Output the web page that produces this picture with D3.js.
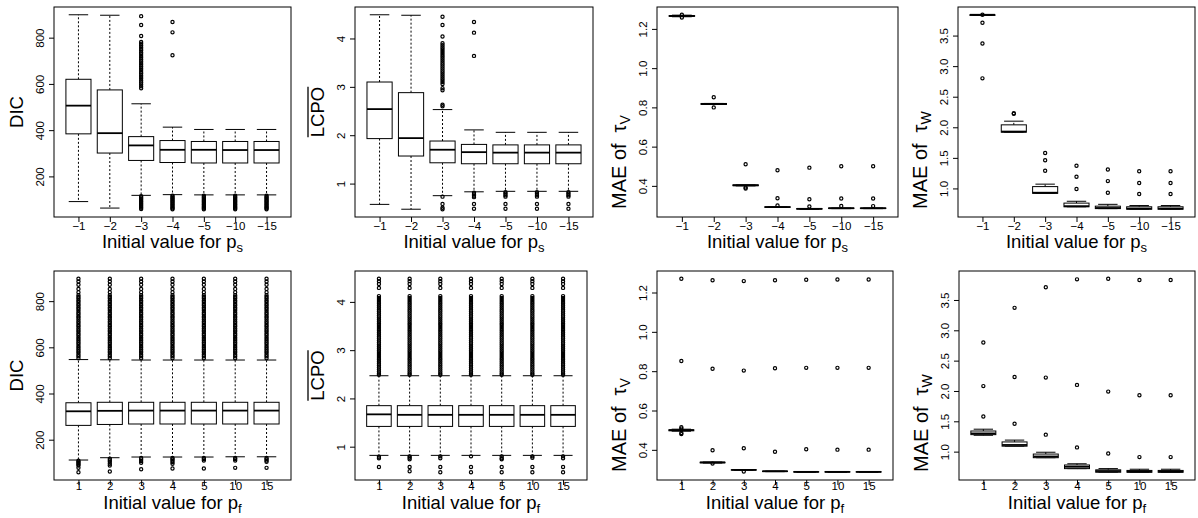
<!DOCTYPE html>
<html>
<head>
<meta charset="utf-8">
<script src="https://cdn.jsdelivr.net/npm/d3@7"></script>
<style>
body{margin:0;background:#fff}
svg{display:block;font-family:"Liberation Sans",Arial,sans-serif}
</style>
</head>
<body>
<svg id="chart" width="1198" height="518"></svg>
<script>
// categories on the x axis
const psLabels = ["\u22121","\u22122","\u22123","\u22124","\u22125","\u221210","\u221215"];
const pfLabels = ["1","2","3","4","5","10","15"];

// y tick values
const dicTicks = [200,400,600,800];
const lcpoTicks = [1,2,3,4];
const tauVTicks = [0.4,0.6,0.8,1.0,1.2];
const tauWTicks = [1.0,1.5,2.0,2.5,3.0,3.5];

// box rows: [lower whisker, q1, median, q3, upper whisker]
const dicPsStats = [
  [91,384,506,620,899],
  [63,301,387,574,897],
  [118,269,334,372,514],
  [121,260,315,355,413],
  [120,258,315,351,403],
  [120,258,314,351,403],
  [120,258,314,351,403]
];
const dicPsOut = [
  [],
  [],
  [893,855,807,781,774,766,759,751,744,736,729,721,713,706,698,690,683,675,668,660,652,645,637,630,622,614,606,598,590,581,
   114,109,104,99,94,89,84,79,74,69,64,59],
  [868,823,724,117,112,107,102,97,92,87,82,77,72,67,62,58],
  [116,111,106,101,96,91,86,81,76,71,66,62,58],
  [116,111,106,101,96,91,86,81,76,71,66,62,58],
  [116,111,106,101,96,91,86,81,76,71,66,62,58]
];

const lcpoPsStats = [
  [0.57,1.93,2.54,3.10,4.49],
  [0.47,1.57,1.94,2.88,4.48],
  [0.75,1.43,1.70,1.88,2.53],
  [0.83,1.41,1.65,1.81,2.11],
  [0.84,1.41,1.64,1.80,2.06],
  [0.84,1.41,1.64,1.80,2.06],
  [0.84,1.41,1.64,1.80,2.06]
];
const lcpoPsOut = [
  [],
  [],
  [4.45,4.28,4.04,3.90,3.86,3.82,3.78,3.74,3.70,3.66,3.62,3.58,3.54,3.50,3.46,3.42,3.38,3.34,3.30,3.26,3.22,3.18,3.14,3.10,3.06,2.97,2.93,2.63,2.60,
   0.73,0.58,0.50,0.47],
  [4.34,4.12,3.64,0.81,0.78,0.75,0.72,0.58,0.48],
  [0.82,0.79,0.76,0.73,0.58,0.48],
  [0.82,0.79,0.76,0.73,0.58,0.48],
  [0.82,0.79,0.76,0.73,0.58,0.48]
];

const tauVPsStats = [
  [1.262,1.264,1.266,1.268,1.270],
  [0.815,0.815,0.817,0.820,0.820],
  [0.400,0.401,0.403,0.405,0.405],
  [0.290,0.291,0.292,0.293,0.293],
  [0.281,0.282,0.283,0.284,0.284],
  [0.284,0.285,0.286,0.287,0.287],
  [0.284,0.285,0.286,0.287,0.287]
];
const tauVPsOut = [
  [1.258,1.272],
  [0.852,0.800],
  [0.510,0.392,0.386],
  [0.480,0.337,0.300],
  [0.493,0.332,0.295],
  [0.500,0.336,0.298],
  [0.500,0.336,0.297]
];

const tauWPsStats = [
  [3.83,3.83,3.84,3.84,3.84],
  [1.92,1.92,1.93,2.04,2.10],
  [0.92,0.92,0.93,1.03,1.07],
  [0.70,0.70,0.71,0.76,0.79],
  [0.67,0.67,0.68,0.71,0.74],
  [0.66,0.66,0.67,0.70,0.72],
  [0.66,0.66,0.67,0.70,0.72]
];
const tauWPsOut = [
  [3.84,3.71,3.37,2.80],
  [2.23,2.22],
  [1.58,1.46,1.29],
  [1.37,1.19,0.99],
  [1.31,1.12,0.93],
  [1.28,1.09,0.91],
  [1.28,1.09,0.91]
];

// initial p_f: DIC and LCPO share the same long upper tail in every group
const dicPfStats = [
  [112,262,323,360,547],
  [122,266,325,362,546],
  [125,268,326,362,545],
  [125,268,326,362,545],
  [125,268,326,362,545],
  [126,268,326,362,545],
  [126,268,326,362,545]
];
const dicPfHigh = [897,885,871,853,838,826,818,811,803,796,788,781,773,766,758,750,743,735,728,720,712,705,697,690,682,674,667,659,652,644,636,629,621,614,606,598,591,583,576,568,561,553];
const dicPfLow = [
  [109,104,99,94,88,78,59],
  [118,111,104,96,88,62],
  [121,115,108,100,72],
  [121,116,110,103,96,75],
  [121,116,110,75],
  [121,116,110,78],
  [121,116,110,104,78]
];

const lcpoPfStats = [
  [0.82,1.42,1.67,1.85,2.47],
  [0.82,1.42,1.66,1.85,2.47],
  [0.82,1.42,1.66,1.85,2.47],
  [0.82,1.42,1.66,1.85,2.47],
  [0.82,1.42,1.66,1.85,2.47],
  [0.82,1.42,1.66,1.85,2.47],
  [0.82,1.42,1.66,1.85,2.47]
];
const lcpoPfHigh = [4.48,4.43,4.37,4.29,4.12,4.08,4.04,4.00,3.96,3.92,3.88,3.84,3.80,3.76,3.72,3.68,3.64,3.60,3.56,3.52,3.48,3.44,3.40,3.36,3.32,3.28,3.24,3.20,3.16,3.12,3.08,3.04,3.00,2.96,2.92,2.88,2.84,2.80,2.76,2.72,2.68,2.64,2.60,2.56,2.52,2.49];
const lcpoPfLow = [
  [0.79,0.76,0.58],
  [0.80,0.77,0.74,0.58,0.49],
  [0.80,0.76,0.58,0.47],
  [0.80,0.58,0.47],
  [0.80,0.76,0.74,0.58,0.47],
  [0.80,0.77,0.58,0.47],
  [0.80,0.76,0.58,0.47]
];

const tauVPfStats = [
  [0.495,0.497,0.500,0.502,0.505],
  [0.333,0.334,0.336,0.337,0.338],
  [0.296,0.297,0.298,0.299,0.300],
  [0.289,0.290,0.291,0.292,0.292],
  [0.286,0.287,0.288,0.289,0.289],
  [0.286,0.287,0.288,0.289,0.289],
  [0.286,0.287,0.288,0.289,0.289]
];
const tauVPfOut = [
  [1.270,0.852,0.515,0.508,0.486,0.480],
  [1.262,0.812,0.398,0.330],
  [1.258,0.803,0.408,0.290],
  [1.262,0.815,0.390],
  [1.265,0.817,0.403],
  [1.266,0.817,0.401],
  [1.266,0.817,0.401]
];

const tauWPfStats = [
  [1.27,1.28,1.30,1.34,1.37],
  [1.09,1.09,1.11,1.16,1.19],
  [0.90,0.90,0.92,0.96,0.99],
  [0.72,0.72,0.75,0.78,0.80],
  [0.66,0.66,0.68,0.70,0.72],
  [0.66,0.66,0.67,0.69,0.71],
  [0.66,0.66,0.67,0.69,0.71]
];
const tauWPfOut = [
  [2.80,2.08,1.58],
  [3.37,2.23,1.46],
  [3.71,2.22,1.28],
  [3.84,2.10,1.07],
  [3.85,1.99,0.97],
  [3.83,1.93,0.91],
  [3.83,1.93,0.91]
];

// plot areas, one per panel (left, right, top, bottom)
const frames = [
  [54,291,7,217],[355,593,7,217],[657,898,7,217],[958,1195,7,217],
  [54,291,271,480],[355,587,271,480],[657,893,271,480],[959,1195,271,480]
];

const panels = [
  {stats:dicPsStats, out:dicPsOut, cats:psLabels, ticks:dicTicks, ylab:"DIC", sub:"s"},
  {stats:lcpoPsStats, out:lcpoPsOut, cats:psLabels, ticks:lcpoTicks, ylab:"LCPO", sub:"s"},
  {stats:tauVPsStats, out:tauVPsOut, cats:psLabels, ticks:tauVTicks, ylab:"V", sub:"s"},
  {stats:tauWPsStats, out:tauWPsOut, cats:psLabels, ticks:tauWTicks, ylab:"W", sub:"s"},
  {stats:dicPfStats, out:dicPfLow.map(a=>dicPfHigh.concat(a)), cats:pfLabels, ticks:dicTicks, ylab:"DIC", sub:"f"},
  {stats:lcpoPfStats, out:lcpoPfLow.map(a=>lcpoPfHigh.concat(a)), cats:pfLabels, ticks:lcpoTicks, ylab:"LCPO", sub:"f"},
  {stats:tauVPfStats, out:tauVPfOut, cats:pfLabels, ticks:tauVTicks, ylab:"V", sub:"f"},
  {stats:tauWPfStats, out:tauWPfOut, cats:pfLabels, ticks:tauWTicks, ylab:"W", sub:"f"}
];

const svg = d3.select("#chart");

panels.forEach(function(p, i){
  const [l, r, t, b] = frames[i];
  const top = i < 4;
  const g = svg.append("g");

  // R style: data range stretched by 4% on each side
  const all = p.stats.flat().concat(p.out.flat());
  const ext = d3.extent(all);
  const pad = (ext[1] - ext[0]) * 0.04;
  const y = d3.scaleLinear().domain([ext[0] - pad, ext[1] + pad]).range([b, t]);
  const x = d3.scaleLinear().domain([0.22, 7.78]).range([l, r]);
  const half = x(1.4) - x(1);
  const capHalf = x(1.31) - x(1);

  // frame
  g.append("rect").attr("x", l).attr("y", t).attr("width", r - l).attr("height", b - t)
    .attr("fill", "none").attr("stroke", "#000").attr("stroke-width", 1);

  // x axis
  const xa = g.append("g").attr("transform", "translate(0," + b + ")")
    .call(d3.axisBottom(x).tickValues(d3.range(1, 8)).tickFormat(k => p.cats[k - 1]).tickSize(5).tickSizeOuter(0));
  xa.select(".domain").remove();
  xa.selectAll("text").attr("font-size", 11.5).attr("font-family", null)
    .attr("y", top ? 5 : 2).attr("dy", "0.71em").attr("fill", "#000");

  // y axis, labels turned like R's las = 0
  const ya = g.append("g").attr("transform", "translate(" + l + ",0)")
    .call(d3.axisLeft(y).tickValues(p.ticks)
      .tickFormat(p.ylab === "LCPO" || p.ylab === "DIC" ? d3.format("d") : d3.format(".1f"))
      .tickSize(5).tickSizeOuter(0));
  ya.select(".domain").remove();
  ya.selectAll("text").attr("font-size", 11.5).attr("font-family", null)
    .attr("transform", "rotate(-90)").attr("x", 0).attr("y", -10).attr("dy", 0)
    .attr("text-anchor", "middle").attr("fill", "#000");

  // boxes
  p.stats.forEach(function(s, k){
    const cx = x(k + 1);
    const bx = g.append("g");
    bx.append("line").attr("x1", cx).attr("x2", cx).attr("y1", y(s[3])).attr("y2", y(s[4]))
      .attr("stroke", "#000").attr("stroke-dasharray", "2,2");
    bx.append("line").attr("x1", cx).attr("x2", cx).attr("y1", y(s[1])).attr("y2", y(s[0]))
      .attr("stroke", "#000").attr("stroke-dasharray", "2,2");
    [s[0], s[4]].forEach(v => bx.append("line").attr("x1", cx - capHalf).attr("x2", cx + capHalf)
      .attr("y1", y(v)).attr("y2", y(v)).attr("stroke", "#000"));
    bx.append("rect").attr("x", cx - half).attr("width", 2 * half)
      .attr("y", y(s[3])).attr("height", Math.max(0, y(s[1]) - y(s[3])))
      .attr("fill", "#fff").attr("stroke", "#000");
    bx.append("line").attr("x1", cx - half).attr("x2", cx + half)
      .attr("y1", y(s[2])).attr("y2", y(s[2])).attr("stroke", "#000").attr("stroke-width", 1.8);
    g.selectAll(null).data(p.out[k]).enter().append("circle")
      .attr("cx", cx).attr("cy", d => y(d)).attr("r", 1.6)
      .attr("fill", "none").attr("stroke", "#000").attr("stroke-width", 1.2);
  });

  // x label
  const xl = g.append("text").attr("x", (l + r) / 2).attr("y", b + (top ? 31 : 29))
    .attr("text-anchor", "middle").attr("font-size", 18.5).attr("fill", "#000");
  xl.append("tspan").text("Initial value for  p");
  xl.append("tspan").attr("font-size", 13).attr("dy", 4).text(p.sub);

  // y label
  if (p.ylab === "V" || p.ylab === "W") {
    const yl = g.append("text").attr("transform", "translate(" + (l - 31) + "," + (b - 8) + ") rotate(-90)")
      .attr("text-anchor", "start").attr("font-size", 20).attr("fill", "#000");
    yl.append("tspan").text("MAE of");
    yl.append("tspan").attr("dx", 11).text("\u03c4");
    yl.append("tspan").attr("font-size", 14).attr("dy", 4).text(p.ylab);
  } else {
    const ty = "translate(" + (l - 31) + "," + ((t + b) / 2) + ") rotate(-90)";
    const yl = g.append("text").attr("transform", ty)
      .attr("text-anchor", "middle").attr("font-size", 18.5).attr("fill", "#000").text(p.ylab);
    if (p.ylab === "LCPO") {
      // bar over the name
      const bb = yl.node().getBBox();
      g.append("line").attr("transform", ty)
        .attr("x1", bb.x).attr("x2", bb.x + bb.width).attr("y1", bb.y + 1).attr("y2", bb.y + 1)
        .attr("stroke", "#000").attr("stroke-width", 1.3);
    }
  }
});
</script>
</body>
</html>
